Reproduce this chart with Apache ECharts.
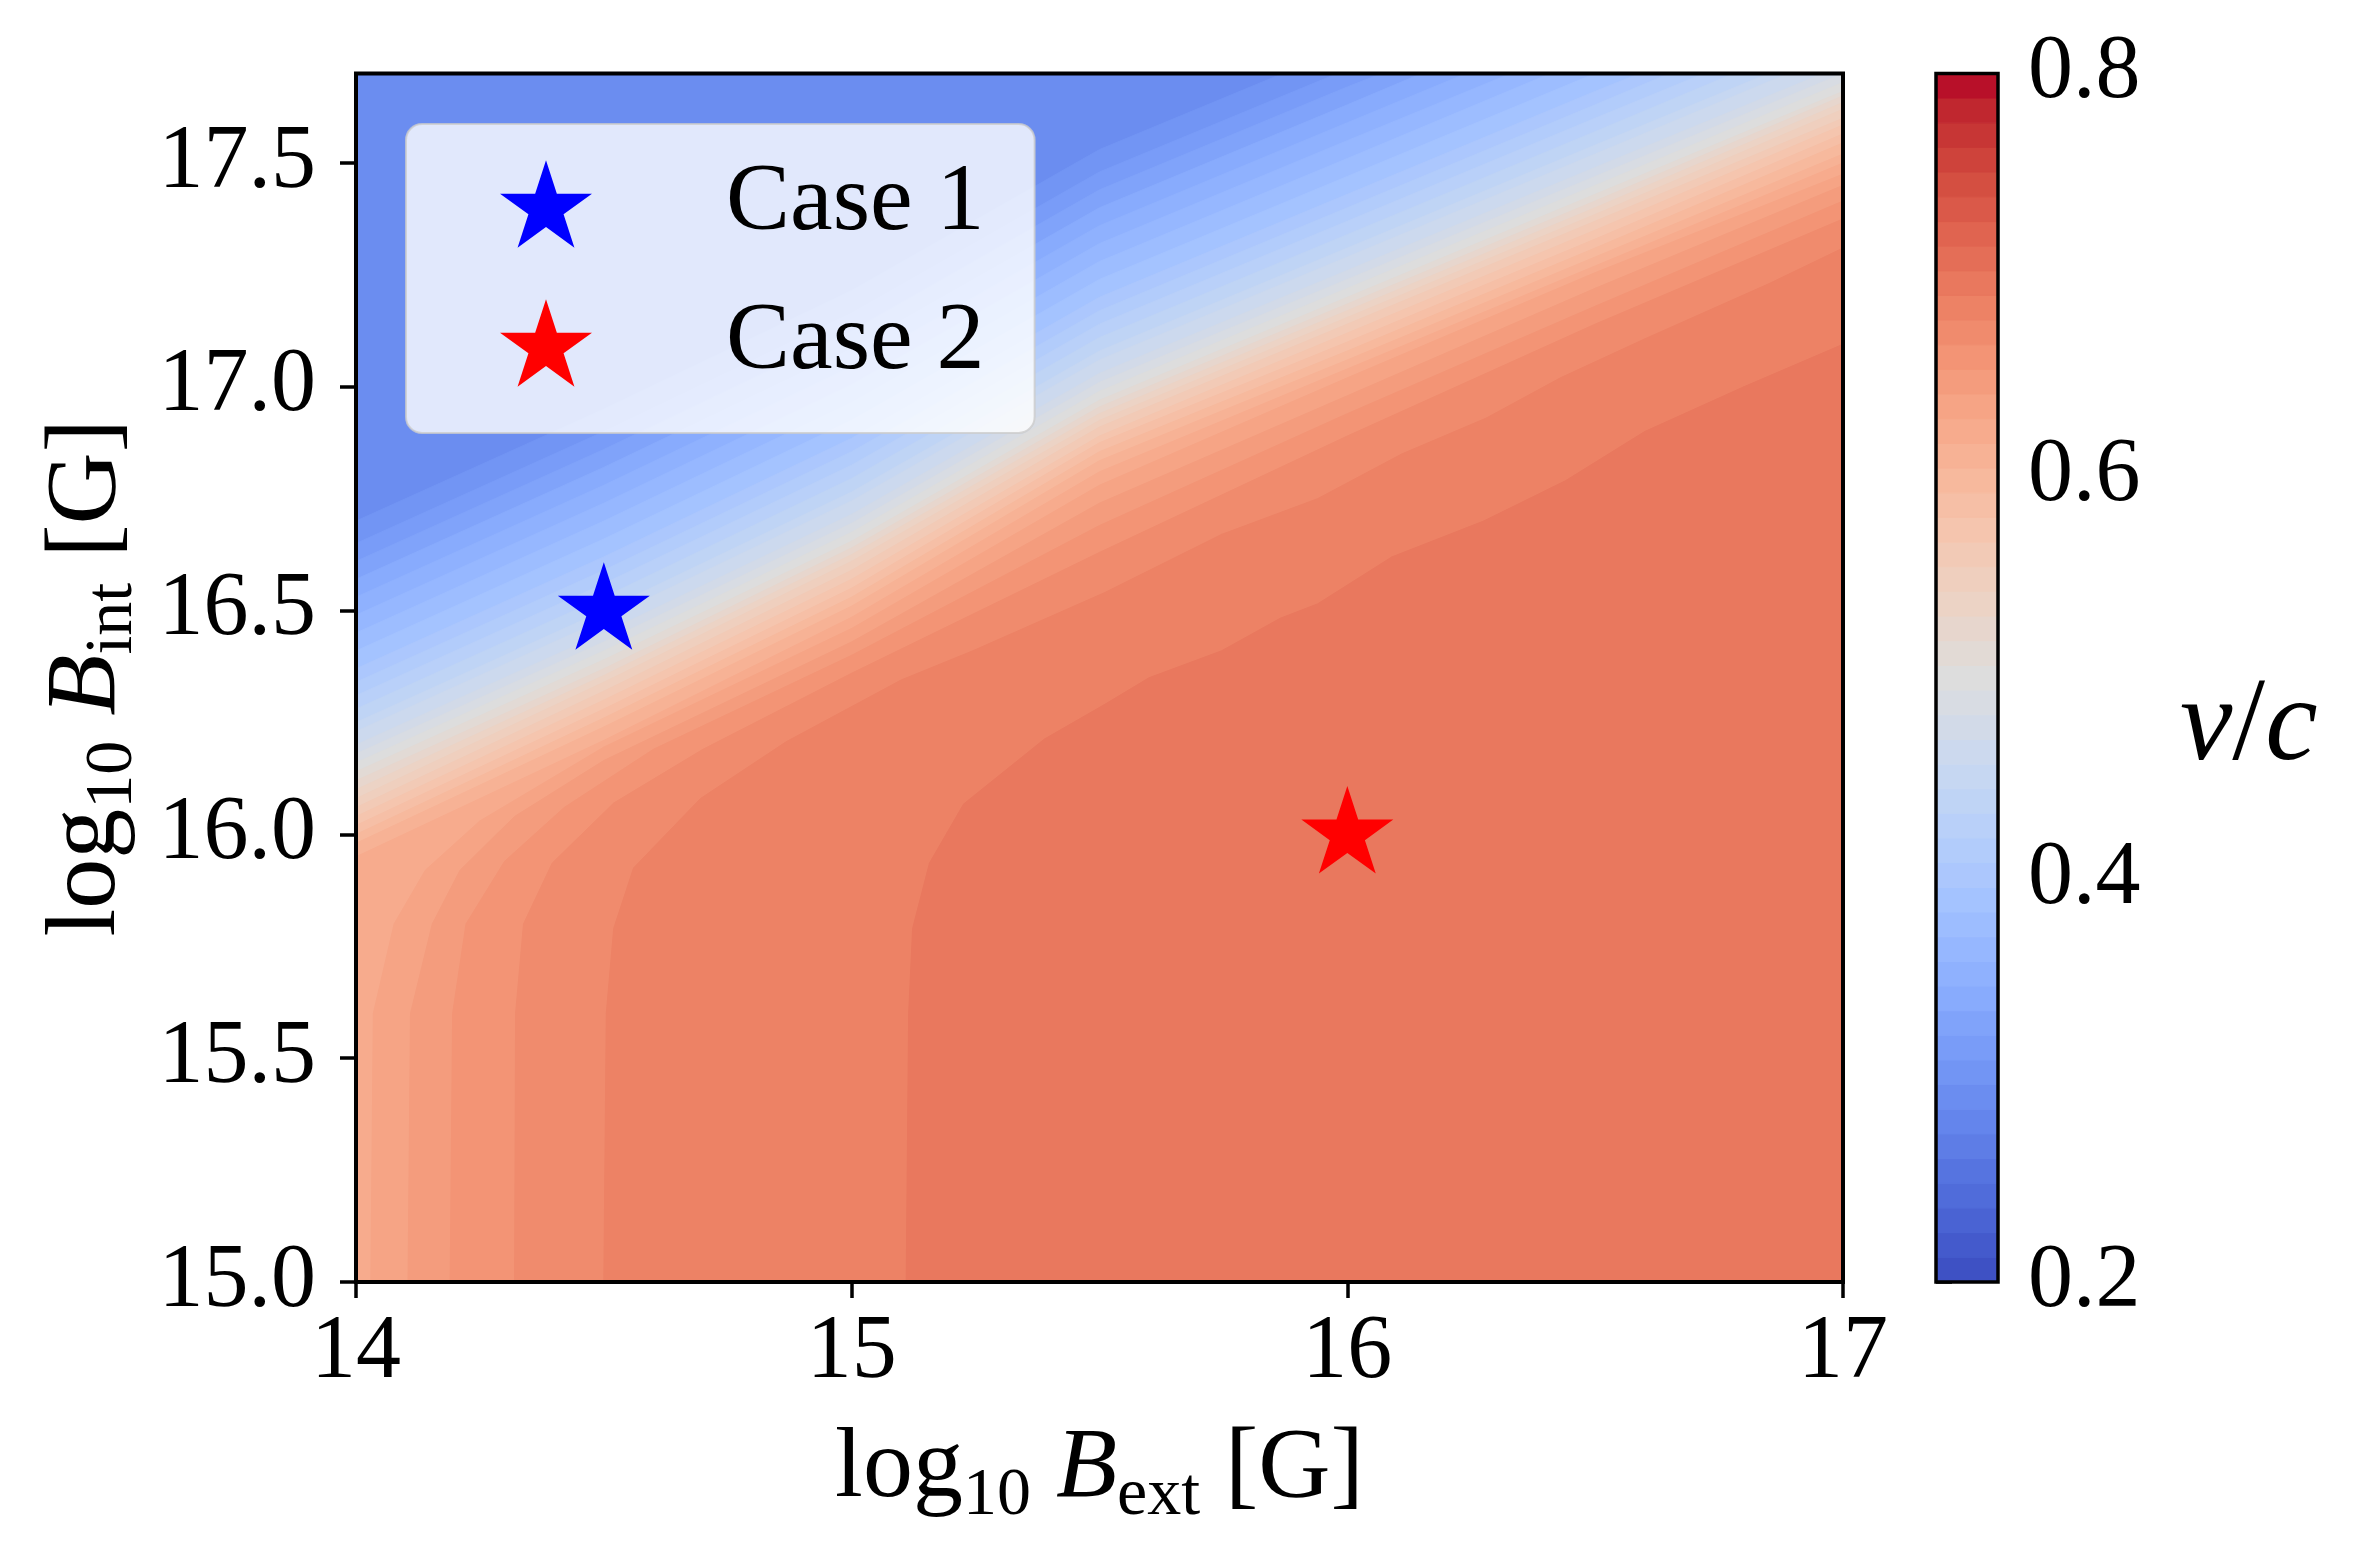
<!DOCTYPE html>
<html><head><meta charset="utf-8">
<script src="https://cdn.jsdelivr.net/npm/echarts@6/dist/echarts.min.js"></script>
<style>html,body{margin:0;padding:0;background:#fff}#c{width:2376px;height:1563px}</style>
</head><body><div id="c"></div>
<script>
// ---------- data ----------
const X_TICKS = [14, 15, 16, 17];
const Y_TICKS = [15.0, 15.5, 16.0, 16.5, 17.0, 17.5];
const CBAR_TICKS = [0.2, 0.4, 0.6, 0.8];
const X_MIN = 14, X_MAX = 17, Y_MIN = 15, Y_MAX = 17.7;

// contour levels of v/c (colorbar levels)
const LEVELS = [0.2000,0.2122,0.2245,0.2367,0.2490,0.2612,0.2735,0.2857,0.2980,0.3102,
  0.3224,0.3347,0.3469,0.3592,0.3714,0.3837,0.3959,0.4082,0.4204,0.4327,
  0.4449,0.4571,0.4694,0.4816,0.4939,0.5061,0.5184,0.5306,0.5429,0.5551,
  0.5673,0.5796,0.5918,0.6041,0.6163,0.6286,0.6408,0.6531,0.6653,0.6776,
  0.6898,0.7020,0.7143,0.7265,0.7388,0.7510,0.7633,0.7755,0.7878,0.8000];

// lowest band shown (top-left corner)
const BASE_LEVEL_INDEX = 7;

// blue-side contour lines: start on left edge, leave through top edge  [logBext, logBint]
const BLUE_LEVEL_INDEX = [8,9,10,11,12,13,14,15,16,17,18,19,20,21,22,23,24];
const BLUE_CONTOURS = [
  [[14,16.70],[14.5,16.95],[15,17.215],[15.5,17.53],[15.87,17.7]],
  [[14,16.65],[14.5,16.90],[15,17.165],[15.5,17.48],[15.98,17.7]],
  [[14,16.61],[14.5,16.86],[15,17.125],[15.5,17.44],[16,17.67],[16.07,17.7]],
  [[14,16.57],[14.5,16.82],[15,17.085],[15.5,17.40],[16,17.63],[16.15,17.7]],
  [[14,16.53],[14.5,16.78],[15,17.045],[15.5,17.36],[16,17.59],[16.24,17.7]],
  [[14,16.49],[14.5,16.74],[15,17.005],[15.5,17.32],[16,17.55],[16.33,17.7]],
  [[14,16.45],[14.5,16.70],[15,16.965],[15.5,17.28],[16,17.51],[16.41,17.7]],
  [[14,16.41],[14.5,16.66],[15,16.925],[15.5,17.24],[16,17.47],[16.5,17.7]],
  [[14,16.37],[14.5,16.62],[15,16.885],[15.5,17.20],[16,17.43],[16.5,17.66],[16.59,17.7]],
  [[14,16.34],[14.5,16.59],[15,16.855],[15.5,17.17],[16,17.40],[16.5,17.63],[16.65,17.7]],
  [[14,16.31],[14.5,16.56],[15,16.825],[15.5,17.14],[16,17.37],[16.5,17.60],[16.72,17.7]],
  [[14,16.28],[14.5,16.53],[15,16.795],[15.5,17.11],[16,17.34],[16.5,17.57],[16.78,17.7]],
  [[14,16.25],[14.5,16.50],[15,16.765],[15.5,17.08],[16,17.31],[16.5,17.54],[16.85,17.7]],
  [[14,16.23],[14.5,16.48],[15,16.745],[15.5,17.06],[16,17.29],[16.5,17.52],[16.89,17.7]],
  [[14,16.20],[14.5,16.45],[15,16.715],[15.5,17.03],[16,17.26],[16.5,17.49],[16.96,17.7]],
  [[14,16.18],[14.5,16.43],[15,16.695],[15.5,17.01],[16,17.24],[16.5,17.47],[17,17.70]],
  [[14,16.16],[14.5,16.41],[15,16.675],[15.5,16.99],[16,17.22],[16.5,17.45],[17,17.68]]
];

// red-side diagonal contour lines: left edge -> right edge
const MID_LEVEL_INDEX = [25,26,27,28,29,30,31,32,33,34];
const MID_X = [14, 14.5, 15, 15.5, 16, 16.5, 17];
const MID_Y = [
  [16.14,16.39,16.655,16.97,17.20,17.43,17.66],
  [16.12,16.37,16.64,16.955,17.185,17.415,17.65],
  [16.10,16.355,16.625,16.94,17.17,17.40,17.635],
  [16.08,16.34,16.61,16.925,17.155,17.385,17.62],
  [16.06,16.32,16.59,16.91,17.14,17.37,17.60],
  [16.04,16.30,16.57,16.89,17.12,17.35,17.585],
  [16.02,16.28,16.55,16.875,17.10,17.33,17.565],
  [16.00,16.26,16.53,16.855,17.08,17.31,17.545],
  [15.98,16.24,16.51,16.835,17.06,17.29,17.52],
  [15.95,16.21,16.485,16.81,17.04,17.27,17.50]
];

// red-side contour lines rising from bottom edge, bending to the right edge
const RED_LEVEL_INDEX = [35,36,37,38,39,40];
const RED_CONTOURS = [
  [[14.03,15],[14.035,15.6],[14.077,15.80],[14.14,15.92],[14.25,16.03],[14.5,16.195],[15,16.46],[15.5,16.78],[16,17.02],[16.5,17.255],[17,17.475]],
  [[14.105,15],[14.11,15.6],[14.154,15.80],[14.21,15.92],[14.32,16.04],[14.5,16.165],[15,16.43],[15.5,16.74],[16,16.98],[16.5,17.22],[17,17.45]],
  [[14.19,15],[14.195,15.6],[14.222,15.80],[14.30,15.94],[14.42,16.06],[14.6,16.19],[15,16.40],[15.5,16.69],[16,16.94],[16.5,17.18],[17,17.415]],
  [[14.32,15],[14.322,15.6],[14.338,15.80],[14.396,15.936],[14.52,16.07],[14.7,16.19],[15,16.36],[15.5,16.63],[16,16.89],[16.5,17.14],[17,17.375]],
  [[14.50,15],[14.505,15.6],[14.52,15.79],[14.56,15.925],[14.695,16.08],[14.868,16.207],[15.10,16.345],[15.244,16.41],[15.51,16.54],[15.746,16.67],[15.94,16.75],[16.11,16.85],[16.28,16.93],[16.43,17.02],[16.6,17.107],[16.85,17.23],[17.0,17.31]],
  [[15.11,15],[15.115,15.6],[15.123,15.79],[15.157,15.936],[15.226,16.068],[15.389,16.213],[15.51,16.29],[15.60,16.35],[15.746,16.41],[15.865,16.483],[15.94,16.515],[16.09,16.62],[16.275,16.70],[16.44,16.79],[16.6,16.9],[16.8,17.0],[17.0,17.095]]
];

const CASE1 = [[14.5, 16.5]];
const CASE2 = [[16.0, 16.0]];

// ---------- build ----------
const COOLWARM = ['#3b4cc0','#445acc','#4d68d7','#5775e1','#6282ea','#6c8ef1','#779af7','#82a5fb','#8db0fe','#98b9ff','#a3c2ff','#aec9fd','#b8d0f9','#c2d5f4','#ccd9ee','#d5dbe6','#dddddd','#e5d8d1','#ecd3c5','#f1ccb9','#f5c4ad','#f7bba0','#f7b194','#f7a687','#f49a7b','#f18d6f','#ec7f63','#e57058','#de604d','#d55042','#cb3e38','#c0282f','#b40426'];
const FONT = "'Liberation Serif','DejaVu Serif',serif";
const STAR = 'path://M0,-100L22.45,-30.9L95.1,-30.9L36.33,11.8L58.8,80.9L0,38.2L-58.8,80.9L-36.33,11.8L-95.1,-30.9L-22.45,-30.9Z';

const bandMid = k => (LEVELS[k] + LEVELS[k + 1]) / 2;
const contourItems = [];
contourItems.push({k: BASE_LEVEL_INDEX, full: true, pts: []});
BLUE_LEVEL_INDEX.forEach((k, i) => contourItems.push({k, pts: BLUE_CONTOURS[i]}));
MID_LEVEL_INDEX.forEach((k, i) => contourItems.push({k, pts: MID_X.map((x, j) => [x, MID_Y[i][j]])}));
RED_LEVEL_INDEX.forEach((k, i) => contourItems.push({k, pts: RED_CONTOURS[i]}));

function renderContour(params, api) {
  const it = contourItems[params.dataIndex];
  let pts;
  if (it.full) {
    pts = [[X_MIN, Y_MIN], [X_MIN, Y_MAX], [X_MAX, Y_MAX], [X_MAX, Y_MIN]];
  } else {
    pts = it.pts.slice();
    const first = pts[0], last = pts[pts.length - 1];
    if (last[1] >= Y_MAX - 1e-9) pts.push([X_MAX, Y_MAX]);
    pts.push([X_MAX, Y_MIN]);
    if (first[0] <= X_MIN + 1e-9) pts.push([X_MIN, Y_MIN]);
  }
  const c = api.visual('color');
  return {type: 'polygon', shape: {points: pts.map(p => api.coord(p))},
          style: {fill: c, stroke: c, lineWidth: 1}};
}

const cbarItems = [];
for (let j = 0; j < LEVELS.length - 1; j++) cbarItems.push([bandMid(j), LEVELS[j], LEVELS[j + 1]]);
function renderCbar(params, api) {
  const p0 = api.coord([0, api.value(1)]);
  const p1 = api.coord([1, api.value(2)]);
  const c = api.visual('color');
  return {type: 'rect', shape: {x: p0[0], y: p1[1], width: p1[0] - p0[0], height: p0[1] - p1[1]},
          style: {fill: c, stroke: c, lineWidth: 1}};
}

const tickStyle = {show: true, length: 16, lineStyle: {color: '#000', width: 3.5}};
const labelStyle = {color: '#000', fontSize: 90, fontFamily: FONT};
const rich = {
  a: {fontSize: 100, fontFamily: FONT, lineHeight: 120, color: '#000'},
  i: {fontSize: 100, fontFamily: FONT, fontStyle: 'italic', lineHeight: 120, color: '#000'},
  s: {fontSize: 68, fontFamily: FONT, lineHeight: 54, verticalAlign: 'bottom', color: '#000'}
};

const chart = echarts.init(document.getElementById('c'), null, {renderer: 'canvas'});
chart.setOption({
  backgroundColor: '#fff',
  animation: false,
  grid: [
    {left: 356, top: 73.5, width: 1487, height: 1208.5, show: true, borderColor: '#000', borderWidth: 4, backgroundColor: 'transparent', z: 10},
    {left: 1936, top: 73.5, width: 62, height: 1208.5, show: true, borderColor: '#000', borderWidth: 3.5, backgroundColor: 'transparent', z: 10}
  ],
  xAxis: [
    {type: 'value', gridIndex: 0, min: X_MIN, max: X_MAX, interval: 1,
     axisLine: {show: false}, splitLine: {show: false},
     axisTick: Object.assign({customValues: X_TICKS}, tickStyle),
     axisLabel: Object.assign({margin: 26, customValues: X_TICKS}, labelStyle),
     name: '{a|log}{s|10}{a| }{i|B}{s|ext}{a| [G]}', nameLocation: 'middle', nameGap: 128,
     nameTextStyle: {rich: rich}},
    {type: 'value', gridIndex: 1, min: 0, max: 1, show: false}
  ],
  yAxis: [
    {type: 'value', gridIndex: 0, min: Y_MIN, max: Y_MAX, interval: 0.5,
     axisLine: {show: false}, splitLine: {show: false},
     axisTick: Object.assign({customValues: Y_TICKS}, tickStyle),
     axisLabel: Object.assign({margin: 40, customValues: Y_TICKS, formatter: v => v.toFixed(1)}, labelStyle),
     name: '{a|log}{s|10}{a| }{i|B}{s|int}{a| [G]}', nameLocation: 'middle', nameRotate: 90, nameGap: 200,
     nameTextStyle: {rich: rich}},
    {type: 'value', gridIndex: 1, position: 'right', min: 0.2, max: 0.8, interval: 0.2,
     axisLine: {show: false}, splitLine: {show: false},
     axisTick: Object.assign({customValues: CBAR_TICKS}, tickStyle),
     axisLabel: Object.assign({margin: 30, customValues: CBAR_TICKS, formatter: v => v.toFixed(1)}, labelStyle)}
  ],
  visualMap: {type: 'continuous', show: false, min: 0.2, max: 0.8, dimension: 0, seriesIndex: [0, 1],
              inRange: {color: COOLWARM}},
  legend: {orient: 'vertical', left: 406, top: 124, padding: [32, 50, 42, 94],
           itemWidth: 92, itemHeight: 88, itemGap: 43,
           backgroundColor: 'rgba(255,255,255,0.8)', borderColor: 'rgba(204,204,204,0.8)', borderWidth: 2, borderRadius: 16,
           textStyle: {fontSize: 96, fontFamily: FONT, color: '#000', padding: [0, 0, 0, 129]},
           itemStyle: {opacity: 1},
           data: [{name: 'Case 1', icon: STAR}, {name: 'Case 2', icon: STAR}], z: 30},
  graphic: [{type: 'text', x: 2180, y: 728, z: 30,
             style: {text: '{i|v}{u|/}{i|c}', verticalAlign: 'middle',
                     rich: {i: {fontSize: 118, fontFamily: FONT, fontStyle: 'italic', fill: '#000'},
                            u: {fontSize: 118, fontFamily: FONT, fill: '#000'}}}}],
  series: [
    {type: 'custom', name: 'v/c', xAxisIndex: 0, yAxisIndex: 0, renderItem: renderContour,
     data: contourItems.map(it => [bandMid(it.k), it.k]), z: 1, silent: true},
    {type: 'custom', name: 'colorbar', xAxisIndex: 1, yAxisIndex: 1, renderItem: renderCbar,
     data: cbarItems, z: 1, silent: true},
    {type: 'scatter', name: 'Case 1', xAxisIndex: 0, yAxisIndex: 0, data: CASE1, symbol: STAR,
     symbolSize: [92, 87.5], symbolOffset: [0, -4.6], itemStyle: {color: '#0000ff', opacity: 1}, z: 20},
    {type: 'scatter', name: 'Case 2', xAxisIndex: 0, yAxisIndex: 0, data: CASE2, symbol: STAR,
     symbolSize: [92, 87.5], symbolOffset: [0, -4.6], itemStyle: {color: '#ff0000', opacity: 1}, z: 20}
  ]
});
</script></body></html>
